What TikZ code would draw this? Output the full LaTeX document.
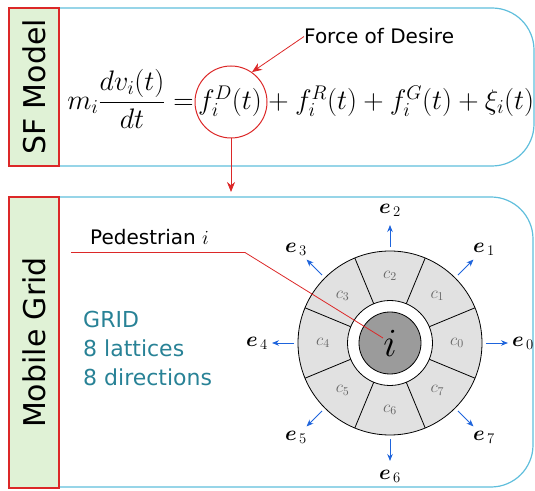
\RequirePackage{fix-cm}
\documentclass[tikz,border=0pt]{standalone}
\usepackage{amsmath}
\usepackage{fontspec}
\setsansfont{DejaVu Sans}
\usetikzlibrary{arrows.meta,calc,positioning}

\definecolor{panelblue}{RGB}{95,190,220}
\definecolor{sidegreen}{RGB}{224,242,214}
\definecolor{sidered}{RGB}{220,40,40}
\definecolor{gridteal}{RGB}{40,130,150}
\definecolor{dirblue}{RGB}{30,100,220}
\definecolor{cellgray}{RGB}{225,225,225}
\definecolor{pedgray}{RGB}{155,155,155}

\begin{document}
\begin{tikzpicture}[x=1pt,y=1pt,
    panel/.style={panelblue, line width=1.2pt, rounded corners=42pt},
    sidebox/.style={draw=sidered, fill=sidegreen, line width=1.4pt, rotate=90,
      minimum height=50pt, inner sep=0pt, font=\sffamily\fontsize{30}{35}\selectfont},
    eqtext/.style={inner sep=0pt, font=\fontsize{28.2}{33}\selectfont},
    note/.style={inner sep=0pt, font=\sffamily\fontsize{20}{24}\selectfont},
    gridnote/.style={inner sep=0pt, anchor=base west, text=gridteal,
      font=\sffamily\fontsize{22}{26}\selectfont},
    redarrow/.style={sidered, line width=0.8pt, -{Stealth[length=10pt,width=8pt]}},
    dirarrow/.style={dirblue, line width=0.8pt, -{Stealth[length=7pt,width=5.5pt]}},
    celllabel/.style={text=black!60, font=\fontsize{17}{20}\selectfont},
    dirlabel/.style={font=\fontsize{21}{24}\selectfont}]
  \useasboundingbox (0,0) rectangle (535,490);

  % Panels
  \draw[panel] (59,482) -- (534,482) -- (534,324) -- (59,324);
  \draw[panel] (59,293) -- (533,293) -- (533,3) -- (59,3);

  % Side labels
  \node[sidebox, minimum width=158pt] (sf) at (34,403) {SF Model};
  \node[sidebox, minimum width=291pt] (mg) at (34,147.5) {Mobile Grid};

  % Equation of motion
  \node[circle, draw=sidered, line width=1pt, minimum size=72pt, inner sep=0pt] (fDring) at (231,388) {};
  \node[eqtext, anchor=base] (fD) at (230,380.5) {$f_i^D(t)$};
  \node[eqtext, anchor=base east] (lhs) at ($(fD.base west)+(-4,0)$) {$m_i\dfrac{dv_i(t)}{dt} =$};
  \node[eqtext, anchor=base west] (rhs) at ($(fD.base east)+(0,0)$) {${}+f_i^R(t)+f_i^G(t)+\xi_i(t)$};

  \node[note, anchor=base west] (desire) at (304,446) {Force of Desire};
  \draw[redarrow] (desire.west) -- (fDring.55);
  \coordinate (gridtop) at (231,298);
  \draw[redarrow] (fDring.south) -- (gridtop);

  % Mobile grid around pedestrian i
  \node[circle, draw, fill=cellgray, line width=0.8pt, minimum size=184pt] (ring) at (390,147) {};
  \foreach \k in {0,...,7} {
    \draw[line width=0.8pt] ($(ring.center)+(22.5+45*\k:42)$) -- ($(ring.center)+(22.5+45*\k:92)$);
    \node[celllabel] (c\k) at ($(ring.center)+(45*\k:67)$) {$c_{\k}$};
    \coordinate (t\k) at ($(ring.center)+(45*\k:118)$);
    \draw[dirarrow] ($(ring.center)+(45*\k:96)$) -- (t\k);
    \node[dirlabel] (e\k) at ($(ring.center)+(45*\k:133)$) {$\boldsymbol{e}_{\,\k}$};
  }
  \node[circle, draw, fill=white, line width=0.8pt, minimum size=85pt] (hole) at (ring.center) {};
  \node[circle, draw, fill=pedgray, line width=0.8pt, minimum size=62pt, inner sep=0pt,
    font=\fontsize{40}{46}\selectfont] (ped) at (ring.center) {$i$};

  % Pedestrian pointer
  \node[note, anchor=base west] (pedname) at (90,245) {Pedestrian $i$};
  \coordinate (pstart) at (71,237.5);
  \coordinate (pknee) at (245,237.5);
  \coordinate (pend) at ($(ped.center)+(-7,5)$);
  \draw[sidered, line width=0.8pt] (pstart) -- (pknee) -- (pend);

  % Grid facts
  \node[gridnote] (g1) at (83,162) {GRID};
  \node[gridnote] (g2) at (83,133.5) {8 lattices};
  \node[gridnote] (g3) at (83,105) {8 directions};
\end{tikzpicture}
\end{document}
